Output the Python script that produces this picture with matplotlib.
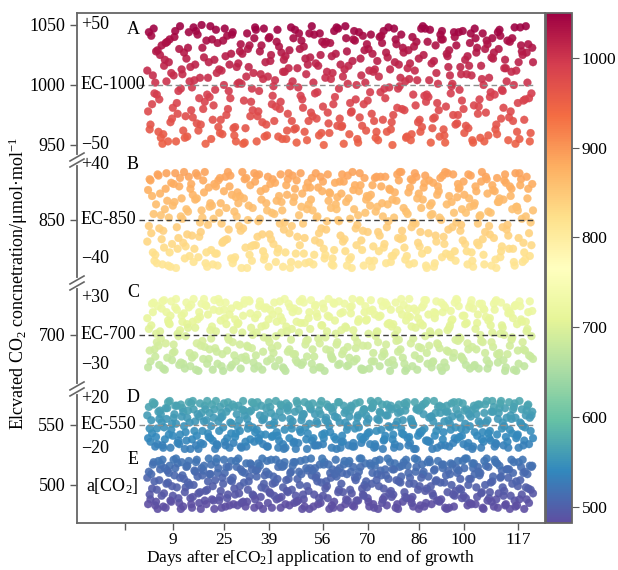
import matplotlib
matplotlib.use("Agg")
import matplotlib.pyplot as plt
import numpy as np

plt.rcParams['font.family'] = ['Liberation Serif', 'DejaVu Serif']
plt.rcParams['mathtext.fontset'] = 'custom'
plt.rcParams['mathtext.rm'] = 'Liberation Serif'
plt.rcParams['mathtext.it'] = 'Liberation Serif:italic'

# set points of the chambers (ppm) and band labels
setpoints = [1000, 850, 700, 550, 500]
band_letters = ['A', 'B', 'C', 'D', 'E']
band_names = ['EC-1000', 'EC-850', 'EC-700', 'EC-550', 'a[CO$_2$]']
# readings taken 4 times a day (hour of day)
hours = [0, 6, 12, 18]

# deviation from set point, one row per reading time, one value per day (day 1..121)
a_00 = [12, -33, 47, -8, 25, -41, 3, 38, -19, -47, 30, 9, -26, 44, -2, 17, -38, 50, -14, 6,
        -45, 21, 35, -29, 0, 41, -11, -36, 15, 28, -49, 7, 33, -21, 46, -5, -31, 19, 39, -16,
        4, -43, 27, 11, -24, 48, -37, 14, -9, 32, -46, 23, 2, -28, 43, -18, 36, -40, 10, 26,
        -3, -34, 49, 16, -22, 37, -48, 8, 29, -13, 42, -30, 20, -6, 45, -39, 13, -25, 34, -1,
        31, -44, 5, 40, -17, 22, -35, 47, -10, 18, -27, 1, 38, -42, 24, -7, 44, -32, 15, -20,
        9, 35, -48, 27, -12, 43, -23, 6, 39, -37, 30, -4, 21, -46, 11, 48, -15, 33, -29, 2, -40]
a_06 = [-22, 41, -7, 29, -44, 16, 36, -31, 8, -15, 49, -38, 22, 3, -27, 45, -11, 31, -49, 19,
        38, -4, -35, 12, 47, -20, 26, -42, 1, 34, -13, 43, -26, 10, -47, 28, 5, -33, 40, -9,
        -18, 32, -45, 24, 14, -30, 46, -2, 37, -39, 17, -23, 42, -6, 25, -50, 11, 35, -16, 48,
        -28, 7, 39, -41, 20, -12, 44, -34, 2, 30, -24, 13, -46, 41, -3, 23, -37, 47, -19, 6,
        27, -43, 18, -8, 36, -29, 49, -14, 4, -36, 33, -21, 45, -48, 15, -1, 40, -25, 9, -40,
        24, 43, -17, 31, -44, 0, 37, -10, 22, -33, 46, -5, 14, -27, 39, -49, 19, 28, -12, 34, -7]
a_12 = [44, -16, 2, -39, 33, 21, -47, 10, 40, -24, -3, 27, -43, 15, 48, -32, 6, -20, 37, -10,
        -29, 46, 13, -41, 24, -5, 42, -35, 18, 1, -48, 30, -14, 39, -26, 9, 47, -42, 20, -1,
        36, -20, 11, -45, 29, 3, -36, 43, -12, 22, -30, 49, -7, 16, -40, 34, -23, 5, 45, -34,
        17, -49, 28, -15, 38, 0, -27, 41, -38, 12, 26, -44, 7, 35, -11, 48, -31, 19, -3, 42,
        -21, 14, -46, 32, 4, -39, 25, -8, 46, -28, 10, -43, 38, -18, 29, 1, -33, 44, -13, 21,
        -36, 8, 47, -24, 16, -47, 34, -6, 27, -41, 41, -19, 3, 36, -30, 12, -45, 25, 49, -11, 31]
a_18 = [-37, 8, 28, -12, -49, 35, 19, -28, 45, -5, 13, -44, 31, -21, 4, 42, -33, 23, -8, 49,
        -17, 10, -40, 37, -25, 17, 44, -47, 2, 26, -36, 15, -3, 48, -22, 33, -43, 7, 25, -30,
        46, -14, 21, -38, -1, 39, -48, 30, -19, 9, 43, -26, 18, -42, 36, 6, -32, 24, -10, 47,
        -35, 13, 1, -23, 45, -45, 22, -16, 34, -6, 11, -39, 40, -29, 27, -2, -50, 38, 17, -20,
        3, 29, -41, 12, -31, 47, -9, 36, -48, 20, -15, 42, -37, 26, 8, -25, 33, -4, 45, -34,
        16, -46, 39, -18, 5, 30, -42, 23, -8, 44, -28, 14, 37, -22, 0, -39, 48, -13, 27, -47, 19]

b_00 = [-18, 33, 5, -36, 22, -9, 39, -27, 12, -40, 28, 1, -22, 36, -13, 17, -31, 8, 40, -4,
        -25, 30, -38, 14, 24, -16, 37, -33, 3, 20, -7, 35, -29, 10, -21, 38, -12, 26, -39, 6,
        31, -24, 15, -2, 34, -35, 19, -14, 39, -28, 9, 27, -37, 2, -19, 32, -8, 23, -32, 13,
        -1, 38, -26, 18, -40, 29, 4, -17, 35, -10, 21, -34, 11, 36, -23, -6, 25, -30, 16, 40,
        -15, 7, -37, 33, -3, 22, -28, 37, -11, 14, -36, 28, 0, -20, 39, -31, 6, 19, -9, 32,
        -26, 11, -39, 24, 3, -16, 36, -5, 29, -33, 15, -22, 38, -13, 26, -38, 8, 34, -27, 18, -2]
b_06 = [25, -11, -34, 38, 4, -23, 16, -39, 30, -6, 35, -19, 9, -30, 21, 39, -14, 2, -36, 27,
        12, -28, 33, -3, -17, 40, -32, 7, 23, -9, 18, -40, 29, -21, 37, 1, -26, 14, -12, 34,
        -35, 20, 8, -27, 39, -5, 26, -37, 11, -15, 31, 17, -29, 3, 36, -24, -1, 22, -38, 9,
        32, -18, 15, -33, 40, -7, 24, -25, 6, 19, -39, 35, -10, 28, -20, 13, -35, 2, 38, -16,
        10, -30, 27, -2, 36, -22, 17, -38, 33, 5, -13, 24, -31, 40, -8, 15, -26, 30, -4, 21,
        -37, 37, 12, -19, 4, -29, 34, -12, 25, -40, 18, -6, 31, -24, 9, 39, -15, 1, -33, 26, -21]
b_12 = [-5, 20, -29, 37, -16, 9, -38, 31, 15, -24, 3, 40, -12, 26, -35, 18, -2, 33, -27, 11,
        -37, 28, 6, -19, 36, -8, 21, -31, 14, -40, 34, 0, -22, 39, -14, 24, -33, 8, 30, -20,
        16, -3, -39, 29, -11, 37, -28, 4, 22, -36, 13, 35, -17, 27, -7, -32, 38, 10, -25, 19,
        -13, 32, -38, 1, 25, -21, 39, -9, 17, -34, 29, 7, -26, 14, 36, -1, -30, 23, -15, 40,
        -23, 5, 34, -36, 18, -10, 27, -40, 12, 31, -18, 2, 37, -28, 20, -6, -34, 26, 9, -20,
        38, -27, 14, -3, 32, -37, 22, 6, -15, 35, -31, 17, -8, 28, -24, 11, 39, -35, 3, -11, 30]
b_18 = [34, -27, 13, -7, -37, 26, 2, -20, 39, -15, 18, -32, 7, 30, -24, 37, -10, 23, -39, 14,
        1, -28, 35, -18, 10, 28, -36, 19, -5, 40, -23, 12, -34, 32, -1, 17, -30, 36, -16, 5,
        -27, 38, -8, 21, -40, 15, 33, -21, -3, 27, -35, 8, 39, -11, 24, -29, 16, -37, 31, 0,
        22, -16, 37, -31, 9, -4, 29, -38, 20, 12, -22, 36, -13, 3, -36, 26, 17, -27, 33, -9,
        -33, 23, -6, 39, -19, 10, 31, -25, 4, -39, 21, 35, -14, 13, -29, 38, -2, 27, -17, 6,
        18, -34, 28, -21, 40, -10, 7, -38, 24, 15, -26, 33, -4, 20, -35, 11, 29, -19, 36, -30, 8]

c_00 = [14, -22, 27, -6, 3, -28, 19, 9, -15, 30, -25, 11, -1, 23, -19, 6, -30, 26, -10, 17,
        -3, 29, -24, 12, 21, -13, -27, 4, 25, -8, 16, -21, 28, 0, -17, 24, -29, 8, 13, -11,
        -26, 20, 2, 30, -14, -4, 22, -23, 10, 27, -18, 5, -29, 18, -7, 26, -12, 15, -20, 1,
        28, -16, 7, -25, 24, -2, 11, -28, 19, -9, 29, -22, 3, 16, -14, 25, -30, 9, -5, 21,
        -19, 12, 30, -26, 6, -10, 23, -1, 17, -27, 14, -8, 27, -23, 4, 20, -15, 29, -3, -21,
        10, -28, 22, -12, 26, -6, 15, -24, 2, 28, -17, 8, -30, 18, -4, 24, -13, 13, -26, 5, -18]
c_06 = [-27, 8, -12, 24, -3, 29, -19, 16, -8, 21, 4, -24, 27, -15, 11, -29, 19, -5, 25, -20,
        7, -11, 30, -26, 14, -2, 22, -17, 9, -28, 26, -9, 18, -23, 2, 28, -14, 23, -6, 17,
        -1, -21, 12, -30, 26, 5, -16, 20, -25, 10, -4, 29, -18, 15, -27, 22, 3, -13, 27, -8,
        -24, 19, 6, -19, 30, -11, 13, -29, 24, 1, -22, 17, -6, 28, -16, 9, 21, -25, 4, -12,
        25, -28, 15, -3, 20, -20, 8, 29, -9, -23, 18, 2, -30, 23, -14, 12, 27, -5, -18, 16,
        -7, 26, -26, 10, 0, 22, -21, 14, -10, 29, -15, 6, -27, 20, -2, 25, -24, 11, -13, 19, -1]
c_12 = [5, 26, -18, -9, 22, -29, 12, 28, -14, 1, -23, 18, 9, -26, 30, -7, 15, -20, 24, -12,
        -29, 3, 20, -16, 27, -4, -25, 13, 10, -19, 29, -10, 6, -28, 17, 25, -2, -22, 21, -15,
        11, 28, -27, 7, -12, 19, -21, 2, 30, -8, 14, -24, 24, -3, 8, -30, 16, -17, 26, -6,
        18, -13, -26, 23, 4, -20, 29, -9, 12, -28, 21, -1, 15, -18, 27, -23, 7, 0, -14, 30,
        -24, 16, -7, 22, -29, 10, 25, -15, 3, -22, 28, -11, 19, -27, 6, 13, -4, 24, -19, 9,
        -12, 29, -25, 17, -5, 21, -28, 8, 26, -16, 1, -21, 23, -9, 14, -30, 28, -6, 11, -17, 20]
c_18 = [-13, 19, 1, -25, 28, -7, 10, -21, 23, -1, 16, -28, 6, 25, -17, 13, -9, 30, -24, 4,
        21, -14, 27, -30, 9, 17, -6, -22, 24, 2, -18, 29, -11, 14, -26, 7, 22, -3, -20, 27,
        -9, 15, -28, 3, 23, -16, 11, 28, -23, -5, 19, -12, 25, -27, 8, -2, 30, -19, 12, -25,
        4, 26, -10, 18, -22, -6, 28, -29, 13, 20, -15, 2, -26, 24, -8, 10, -21, 27, -4, 17,
        -30, 22, 7, -17, 14, -11, 29, -24, 1, 19, -7, -27, 25, -13, 8, -19, 30, -2, 16, -25,
        23, -10, 5, -28, 26, -15, 12, -6, 21, -23, 27, 0, -16, 18, -29, 9, 24, -12, 3, 28, -20]

d_00 = [8, -14, 17, -3, 12, -19, 5, 20, -9, 1, -16, 14, -6, 19, -12, 3, -20, 10, 16, -7,
        -1, 13, -17, 6, 18, -11, 2, -15, 9, -5, 20, -18, 11, -2, 15, -13, 4, -8, 19, -10,
        7, -19, 16, -4, 12, 0, -14, 18, -6, 9, -20, 14, -11, 3, 17, -16, 6, -1, 11, -12,
        19, -9, 2, -17, 15, -3, 8, -15, 13, -7, 20, -19, 5, 10, -13, 17, -2, -8, 14, -18,
        4, 16, -10, 1, -20, 12, -5, 18, -14, 7, -9, 15, -17, 3, 11, -4, 19, -12, 6, -16,
        13, -1, -18, 9, 17, -6, 2, -11, 20, -15, 10, -3, 14, -19, 5, 18, -8, 1, -13, 16, -5]
d_06 = [-11, 4, 18, -16, 9, -2, 14, -19, 6, 16, -8, 11, -13, 2, 20, -17, 7, -5, 13, -10,
        17, -20, 3, 10, -14, 19, -7, 15, -1, -18, 12, 5, -12, 18, -4, 8, -16, 14, 0, -9,
        20, -13, 6, -19, 16, -3, 11, -15, 4, 19, -7, 13, -17, 1, 9, -11, 17, -6, 15, -20,
        2, -14, 12, 7, -18, 18, -2, 10, -10, 5, 14, -16, 20, -4, -12, 8, 16, -19, 3, 11,
        -8, 19, -15, 0, 13, -6, 17, -13, 6, -20, 10, -1, 15, -17, 4, 18, -11, 9, -3, 12,
        -18, 7, 16, -9, 1, -14, 20, -5, 11, -16, 14, 2, -10, 19, -7, 6, -19, 13, -2, 17, 8]
d_12 = [15, -7, -18, 11, 2, -12, 19, -4, 9, -15, 17, -1, 6, -20, 13, -9, 18, -16, 4, 10,
        -13, 20, -5, 7, -17, 14, 1, -10, 16, -19, 8, -3, 12, -14, 19, -8, 5, -18, 15, 0,
        -6, 11, -16, 18, -11, 3, -20, 13, 7, -2, 17, -13, 9, -17, 20, -7, 2, 14, -10, 6,
        -19, 16, -4, 12, -15, 1, 19, -12, 8, -6, 15, -18, 4, 17, -9, -1, 13, -16, 10, -3,
        18, -11, 5, -20, 14, -7, 9, 20, -14, 3, -5, 16, -12, 11, -18, 7, -2, 19, -9, 1,
        -15, 12, -6, 17, -19, 10, 4, -13, 15, -8, 18, -17, 6, -4, 13, -11, 20, -1, 8, -16, 11]
d_18 = [-3, 19, -10, 5, -17, 14, -8, 1, 16, -13, 7, -20, 12, 18, -5, 9, -15, 3, 20, -11,
        6, -16, 15, -2, 11, -19, 17, -7, 4, 13, -14, 0, 19, -6, -11, 16, 8, -18, 10, 2,
        -9, 17, -20, 14, 5, -15, 20, -4, 9, -12, 1, 18, -17, 12, -8, 4, 15, -19, 7, 19,
        -14, 10, -1, 16, -18, 6, -10, 13, 2, -16, 18, -5, 11, -20, 8, 14, -12, 0, 17, -7,
        12, -17, 3, 19, -9, 15, -3, -13, 7, 20, -19, 10, -6, 16, 1, -15, 13, -10, 18, -4,
        9, -20, 14, 3, -12, 17, -7, 11, -18, 5, 20, -1, -14, 8, 15, -9, 2, -17, 12, 6, -11]

e_00 = [6, -12, 19, -4, 13, -18, 1, 16, -9, 22, -15, 8, -2, 20, -19, 11, -7, 14, -13, 3,
        17, -20, 10, -5, 21, -11, 4, -16, 15, -1, -14, 18, 7, -8, 12, -17, 22, -3, 9, -19,
        2, 15, -10, 19, -6, 11, -15, 5, 20, -12, -1, 14, -18, 8, 17, -9, 3, -20, 13, 21,
        -4, 10, -16, 18, -7, 6, -13, 22, 0, -11, 16, -19, 9, 12, -3, -17, 19, -8, 4, 15,
        -14, 21, 1, -10, 11, -20, 17, -5, 7, -16, 13, 20, -12, 2, -6, 18, -18, 10, 5, -9,
        22, -15, 14, -2, 8, -19, 16, -11, 3, 19, -7, 12, -17, 6, 21, -13, -1, 15, -20, 9, -4]
e_06 = [-16, 9, 3, -20, 17, -7, 12, -13, 21, -2, 6, -18, 15, 0, -10, 19, -15, 8, -5, 22,
        -12, 4, 14, -19, 10, -8, 20, -3, -17, 13, 2, -14, 18, -9, 7, 16, -20, 11, -6, 1,
        21, -11, 15, -16, 5, -4, 19, -13, 9, -18, 12, 22, -8, 3, -15, 17, -1, 10, -19, 7,
        14, -6, -12, 20, -17, 4, 11, -3, 18, -14, 1, 16, -20, 8, -10, 22, -5, 13, -16, 2,
        19, -11, 6, -18, 15, -1, 9, -15, 21, -7, 3, -13, 17, -19, 12, 0, -9, 20, -4, 14,
        -17, 5, 18, -10, 10, -20, 22, -6, 7, -12, 16, -2, -16, 13, 1, -18, 19, -8, 11, -3, 15]
e_12 = [11, -3, -17, 20, -9, 14, 2, -14, 8, 18, -20, 5, 16, -11, 0, 21, -6, 12, -16, 9,
        -1, 19, -13, 6, -18, 15, 3, -8, 22, -15, 10, -4, 17, -19, 13, -10, 1, 20, -7, 7,
        -12, 18, -2, 4, -17, 16, -9, 11, -20, 21, -5, 8, 14, -16, 2, 19, -11, 6, -14, 12,
        -19, 17, 9, -4, 15, -13, 22, -8, 3, -18, 10, 20, -1, -15, 13, 5, -10, 18, -20, 7,
        -6, 16, -12, 1, 21, -17, 11, -3, 19, -9, 4, -14, 14, 8, -19, 17, -5, 12, -11, 22,
        0, -16, 9, 15, -7, 20, -13, 2, -18, 18, 6, -9, 13, -20, 10, 3, -12, 21, -2, -15, 16]
e_18 = [-8, 17, -14, 4, 21, -19, 10, -1, 14, -11, 19, -6, 2, -16, 12, 7, -20, 16, -4, 9,
        -13, 22, -10, 1, 15, -17, 6, 20, -7, 11, -18, 3, 13, -12, 18, -2, 8, -15, 21, -9,
        5, -19, 16, -5, 10, 19, -14, 0, -8, 14, -20, 12, 6, -11, 22, -3, 17, -17, 9, -6,
        1, 20, -13, 11, -18, 7, 15, -9, -2, 18, -16, 4, 21, -12, 8, -7, 13, -19, 3, 16,
        -10, 10, -15, 22, -4, 6, -18, 19, -1, 12, -13, 2, 17, -20, 9, -8, 14, -3, 20, -11,
        5, 18, -16, 11, -6, 0, 15, -14, 21, -19, 7, -5, 13, -9, 19, -17, 4, 10, -12, 16, -7]

bands = [[a_00, a_06, a_12, a_18], [b_00, b_06, b_12, b_18], [c_00, c_06, c_12, c_18],
         [d_00, d_06, d_12, d_18], [e_00, e_06, e_12, e_18]]
# text next to the axis: upper / lower limit of each band
band_upper = ['+50', '+40', '+30', '+20', None]
band_lower = ['\u221250', '\u221240', '\u221230', '\u221220', None]

xtick_pos = [-6, 9, 25, 39, 56, 70, 86, 100, 117]
xtick_labels = ['', '9', '25', '39', '56', '70', '86', '100', '117']
ytick_vals = [500, 550, 700, 850, 950, 1000, 1050]
cbar_ticks = [500, 600, 700, 800, 900, 1000]

# kept y ranges of the broken axis
segments = [(468.3, 580), (655, 743.3), (797.5, 900), (937.5, 1060)]
kv, kd = [], []
acc = 0.0
for lo, hi in segments:
    kv += [lo, hi]
    kd += [acc + 1e-6, acc + (hi - lo)]
    acc = kd[-1]
kv, kd = np.array(kv), np.array(kd)


def fwd(v):
    return np.interp(v, kv, kd)


def inv(d):
    return np.interp(d, kd, kv)


xs, ys = [], []
for sp, rows in zip(setpoints, bands):
    for hr, row in zip(hours, rows):
        days = np.arange(1, len(row) + 1)
        xs.append(days + hr / 24.0)
        ys.append(sp + np.array(row))
xs = np.concatenate(xs)
ys = np.concatenate(ys)

fig = plt.figure(figsize=(6.18, 5.70), dpi=100)
ax = fig.add_axes([77 / 618, 47 / 570, 468 / 618, 510 / 570])
cax = fig.add_axes([546 / 618, 47 / 570, 26 / 618, 510 / 570])

ax.set_yscale('function', functions=(fwd, inv))
sc = ax.scatter(xs, ys, c=ys, cmap='Spectral_r', vmin=482, vmax=1050, s=32,
                alpha=0.9, edgecolors='face', linewidths=0.2, zorder=2)

line_cols = ['0.55', '0.25', '0.25', '0.55']
for sp, lc in zip(setpoints[:4], line_cols):
    ax.plot([-1.5, 122], [sp, sp], color=lc, ls=(0, (4, 2.5)), lw=1.0, zorder=3)

ax.set_xlim(-21, 125.5)
ax.set_ylim(468.3, 1060)
ax.set_xticks(xtick_pos)
ax.set_xticklabels(xtick_labels)
ax.set_yticks(ytick_vals)
ax.set_yticklabels([str(v) for v in ytick_vals])
ax.minorticks_off()
ax.tick_params(labelsize=13, length=5, width=1.0, color='0.35', direction='out')
ax.tick_params(axis='x', pad=1.5, labelsize=12.5)
for sp in ax.spines.values():
    sp.set_color('0.4')
    sp.set_linewidth(1.3)

# labels inside the axes
fs = 13
xl = -19.8
ax.text(xl, 1050, band_upper[0], fontsize=fs, va='center', ha='left')
ax.text(xl, 1000, band_names[0], fontsize=fs, va='center', ha='left')
ax.text(xl, 950, band_lower[0], fontsize=fs, va='center', ha='left')
ax.text(-3.5, 1046, band_letters[0], fontsize=fs, va='center', ha='center')

ax.text(xl, 896, band_upper[1], fontsize=fs, va='center', ha='left')
ax.text(xl, 850, band_names[1], fontsize=fs, va='center', ha='left')
ax.text(xl, 818, band_lower[1], fontsize=fs, va='center', ha='left')
ax.text(-3.5, 896, band_letters[1], fontsize=fs, va='center', ha='center')

ax.text(xl, 731, band_upper[2], fontsize=fs, va='center', ha='left')
ax.text(xl, 700, band_names[2], fontsize=fs, va='center', ha='left')
ax.text(xl, 675, band_lower[2], fontsize=fs, va='center', ha='left')
ax.text(-3.5, 735, band_letters[2], fontsize=fs, va='center', ha='center')

ax.text(xl, 572, band_upper[3], fontsize=fs, va='center', ha='left')
ax.text(xl, 550, band_names[3], fontsize=fs, va='center', ha='left')
ax.text(xl, 530, band_lower[3], fontsize=fs, va='center', ha='left')
ax.text(-3.5, 573, band_letters[3], fontsize=fs, va='center', ha='center')

ax.text(-1.6, 499, band_names[4], fontsize=fs, va='center', ha='right')
ax.text(-3.5, 521.5, band_letters[4], fontsize=fs, va='center', ha='center')

# break marks on the left spine
total = fwd(1060)
dx, dy, g = 7 / 468, 4 / 510, 3 / 510
for lo, hi in segments[:-1]:
    yb = fwd(hi) / total
    ax.plot([0, 0], [yb - g, yb + g], color='white', lw=3, transform=ax.transAxes,
            clip_on=False, zorder=5)
    for off in (-g, g):
        ax.plot([-dx, dx], [yb + off - dy, yb + off + dy], color='0.4', lw=1.2,
                transform=ax.transAxes, clip_on=False, zorder=6)

ax.set_xlabel('Days after e[CO$_2$] application to end of growth', fontsize=12.5, labelpad=0)
fig.text(18 / 618, 1 - 283 / 570, 'Elcvated CO$_2$ concnetration/\u03bcmol\u00b7mol$^{-1}$',
         rotation=90, va='center', ha='center', fontsize=13)

cb = fig.colorbar(sc, cax=cax, ticks=cbar_ticks)
cb.solids.set_alpha(1)
cb.outline.set_edgecolor('0.4')
cb.outline.set_linewidth(1.3)
cb.ax.tick_params(labelsize=12.5, length=5, color='0.35', pad=2)

fig.savefig('out.png', dpi=100)
